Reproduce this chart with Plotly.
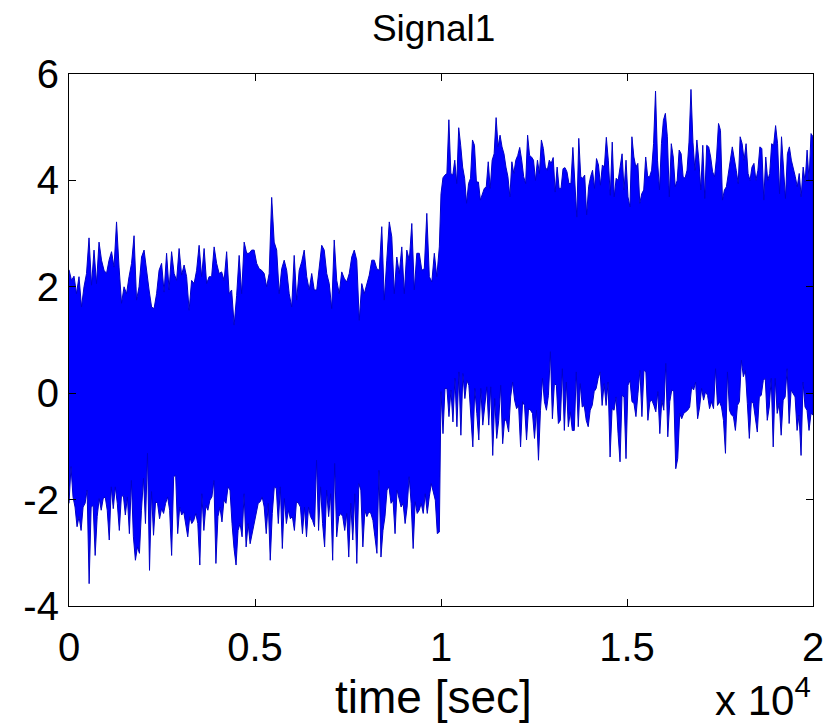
import numpy as np
import plotly.graph_objects as go

# Upper envelope (peaks) of Signal1
upper_first = [
    2.32, 2.12, 2.20, 1.87, 2.19, 1.62, 2.00, 2.25, 2.92, 2.03,
    2.69, 2.06, 2.84, 2.50, 2.31, 2.25, 2.50, 2.66, 2.37, 3.22,
    2.37, 1.69, 2.00, 1.87, 2.19, 2.44, 2.96, 1.75, 2.00, 2.56,
    2.69, 2.25, 1.94, 1.62, 1.59, 1.87, 2.31, 2.44, 1.90, 2.63,
    1.94, 2.66, 2.25, 2.12, 2.72, 2.22, 2.41, 2.19, 1.56, 2.12,
    2.06, 2.31, 2.78, 2.19, 2.72, 2.06, 2.19, 2.19, 2.75, 2.44,
    2.25, 2.28, 2.12, 2.66, 1.87, 1.94, 1.28, 1.84, 2.59, 1.87,
    2.84, 2.63, 2.63, 2.69, 2.69, 2.44, 2.34, 2.31, 2.25, 2.00,
    2.25, 3.68, 2.84, 2.69, 1.87, 2.34, 2.50, 2.31, 1.87, 1.62,
    2.59, 1.75, 2.31, 2.47, 2.69, 2.19, 1.94, 2.25, 1.94, 1.94,
    2.37, 2.78, 2.69, 2.25, 2.06, 1.59, 2.88, 2.12, 1.87, 2.28,
    2.16, 2.09, 2.25, 2.56, 2.69, 2.50, 1.37, 2.06, 1.87, 2.03,
    2.22, 2.50, 2.50, 2.34, 2.31, 3.13, 1.75, 2.50, 3.22, 2.94,
    1.87, 2.56, 2.25, 2.75, 1.87, 2.69, 2.50, 3.19, 1.94, 2.63,
    2.63, 2.31, 2.34, 3.38, 2.19, 2.09, 2.63, 2.19, 2.75,
]
upper_second = [
    3.75, 4.05, 4.10, 4.13, 5.14, 4.13, 4.10, 4.38, 3.94, 4.99,
    4.66, 4.25, 4.04, 3.57, 3.94, 4.04, 4.76, 4.66, 3.97, 3.97,
    3.63, 3.75, 3.85, 3.88, 4.35, 3.85, 4.38, 4.50, 5.18, 4.63,
    4.85, 4.63, 4.50, 4.25, 4.07, 3.69, 4.35, 4.13, 4.38, 4.47,
    4.62, 4.38, 4.07, 3.94, 4.85, 4.47, 4.44, 4.38, 4.00, 4.38,
    4.13, 4.76, 4.60, 4.25, 4.19, 4.38, 4.32, 4.43, 3.78, 4.25,
    3.85, 3.85, 4.22, 4.24, 4.16, 3.94, 3.94, 4.62, 4.00, 3.31,
    4.79, 4.07, 4.04, 4.10, 3.35, 3.88, 4.07, 4.19, 3.85, 4.41,
    4.29, 3.91, 4.29, 4.25, 4.81, 4.38, 3.72, 4.72, 3.69, 4.04,
    4.00, 4.25, 4.50, 3.82, 4.38, 3.69, 3.50, 4.82, 4.44, 4.25,
    4.32, 3.57, 3.75, 3.82, 4.44, 4.07, 4.07, 4.19, 4.69, 5.68,
    4.38, 3.82, 4.69, 5.13, 5.26, 4.82, 3.69, 4.69, 4.44, 3.88,
    4.00, 4.57, 4.50, 4.07, 4.04, 4.19, 4.72, 5.71, 4.72, 4.19,
    4.76, 4.38, 3.82, 4.66, 3.66, 4.66, 4.63, 4.44, 4.16, 4.07,
    4.44, 5.07, 4.94, 3.63, 3.82, 3.88, 4.19, 4.38, 4.63, 4.44,
    4.19, 3.94, 4.82, 4.69, 4.38, 4.69, 4.13, 4.00, 4.25, 4.32,
    4.00, 4.19, 4.63, 4.60, 3.63, 4.44, 4.00, 4.13, 4.69, 4.66,
    5.03, 4.69, 3.75, 4.82, 4.13, 3.66, 4.50, 4.63, 4.38, 4.25,
    4.07, 3.88, 4.13, 3.69, 4.25, 3.97, 4.57, 4.00, 4.88, 4.82,
]
# Lower envelope (troughs) of Signal1
lower_first = [
    -2.07, -1.38, -1.95, -2.14, -2.51, -2.32, -2.58, -2.14, -2.07, -1.82,
    -3.58, -2.14, -2.11, -3.05, -2.32, -1.98, -2.20, -1.98, -1.95, -2.20,
    -2.76, -1.76, -2.17, -1.76, -2.07, -2.58, -1.95, -1.92, -2.29, -1.95,
    -2.64, -1.64, -2.70, -3.14, -2.89, -3.01, -2.20, -1.60, -2.45, -1.13,
    -3.33, -1.85, -2.67, -2.04, -2.07, -2.36, -2.17, -2.26, -2.07, -1.95,
    -2.20, -3.05, -1.57, -1.54, -2.64, -2.14, -2.29, -2.23, -2.45, -2.70,
    -2.32, -2.45, -2.39, -2.26, -2.45, -3.23, -1.89, -2.58, -2.11, -2.20,
    -2.01, -1.95, -1.64, -3.20, -2.32, -2.14, -2.42, -2.01, -2.07, -1.76,
    -1.82, -2.45, -2.92, -3.23, -2.58, -2.45, -2.70, -1.89, -2.89, -2.45,
    -2.83, -2.58, -2.45, -2.26, -2.07, -2.04, -1.95, -2.14, -2.64, -2.07,
    -3.14, -2.26, -1.76, -1.79, -2.45, -1.76, -2.92, -1.98, -2.45, -2.20,
    -2.36, -2.32, -2.58, -2.04, -2.07, -2.14, -2.64, -2.14, -2.70, -2.14,
    -2.32, -2.39, -2.51, -1.26, -2.58, -1.76, -2.45, -2.89, -1.82, -2.32,
    -1.89, -3.14, -1.32, -2.70, -2.32, -2.26, -2.32, -2.58, -2.26, -3.08,
    -2.07, -2.76, -1.89, -3.20, -1.70, -1.82, -2.89, -2.20, -2.32, -2.23,
    -2.26, -2.39, -2.70, -3.01, -1.45, -3.08, -2.58, -2.32, -1.82, -1.76,
    -2.07, -2.01, -2.64, -1.82, -1.95, -2.14, -2.07, -2.45, -2.14, -1.57,
    -2.07, -2.92, -2.04, -2.26, -2.20, -2.07, -2.26, -1.89, -2.26, -1.95,
    -1.70, -1.82, -2.01, -2.64, -2.61,
]
lower_second = [
    0.03, -0.76, 0.09, 0.09, -0.44, 0.06, -0.54, 0.28, -0.63, 0.40,
    -0.79, 0.37, -0.10, 0.24, 0.15, -0.38, -1.01, 0.09, -0.38, -0.88,
    0.09, -0.60, -0.19, 0.12, -0.60, 0.12, -1.17, -0.10, -0.85, -0.51,
    0.15, -0.95, -0.48, -0.54, -0.73, -0.07, 0.21, -0.13, -0.29, -0.23,
    -1.01, -0.16, -0.23, -0.88, -0.29, -0.32, -0.38, -0.85, -0.32, -1.26,
    -0.32, 0.28, -0.16, -0.32, -0.04, 0.78, -0.48, 0.18, 0.15, -0.57,
    -0.51, 0.46, -0.70, 0.21, -0.63, -0.35, -0.70, -0.70, 0.40, -0.63,
    0.18, -0.26, -0.23, -0.51, -0.63, -0.32, -0.23, 0.03, 0.09, 0.28,
    0.40, -0.23, 0.18, -0.23, 0.21, -1.20, -0.29, -0.32, -0.07, -0.76,
    -1.29, -0.04, -0.07, -1.23, 0.15, 0.24, -0.16, -0.19, -0.44, -0.01,
    0.43, -0.44, 0.43, 0.40, -0.51, -0.16, -0.13, -0.23, -0.35, 0.03,
    -0.76, -0.13, -0.32, 0.56, -0.82, -0.16, 0.06, 0.03, -1.42, -1.23,
    -0.38, -0.48, -0.38, -0.35, -0.32, -0.26, 0.12, 0.06, 0.21, -0.48,
    -0.26, 0.09, -0.13, 0.03, -0.04, -0.29, -0.16, -0.29, 0.46, -0.23,
    -0.16, -0.26, -0.51, -1.13, 0.40, -0.32, -0.41, -0.44, -0.70, -0.23,
    -0.16, 0.62, 0.31, 0.43, -0.19, -0.85, -0.16, -0.19, -0.44, -0.73,
    -0.07, -0.04, 0.24, 0.28, -0.51, -0.26, 0.28, -1.01, 0.28, -0.38,
    -0.19, -0.79, -0.13, -0.07, 0.46, -0.57, 0.06, -0.01, -0.07, -0.70,
    -0.41, -1.17, 0.21, -0.26, -0.32, -0.70, -0.38, -0.41,
]

x_tickvals = [0, 5000, 10000, 15000, 20000]
x_ticktext = ["0", "0.5", "1", "1.5", "2"]
y_tickvals = [-4, -2, 0, 2, 4, 6]
y_ticktext = ["-4", "-2", "0", "2", "4", "6"]

# sample times (uniform sampling within each half; step change at 1e4 s)
t_up1 = np.linspace(0, 9955, len(upper_first))
t_up2 = np.linspace(10000, 20000, len(upper_second))
t_lo1 = np.linspace(0, 9955, len(lower_first))
t_lo2 = np.linspace(10000, 20000, len(lower_second))

xs = np.concatenate([t_up1, t_up2, t_lo2[::-1], t_lo1[::-1]])
ys = np.concatenate([upper_first, upper_second, lower_second[::-1], lower_first[::-1]])

FONT = "Liberation Sans, Arial, sans-serif"

fig = go.Figure()
fig.add_trace(go.Scatter(
    x=xs, y=ys, mode="lines", fill="toself",
    fillcolor="#0000FF", line=dict(color="#0000C8", width=1),
    hoverinfo="skip", showlegend=False,
))

axis_common = dict(
    showline=True, linecolor="black", linewidth=1.2, mirror="ticks",
    ticks="inside", ticklen=7, tickcolor="black", tickwidth=1.2,
    showgrid=False, zeroline=False, automargin=False,
    tickfont=dict(family=FONT, size=40, color="black"),
)

W, H = 826, 725
fig.update_layout(
    width=W, height=H,
    margin=dict(l=69, r=13, t=74, b=119),
    paper_bgcolor="white", plot_bgcolor="white",
    title=dict(text="Signal1", x=0.525, xanchor="center", y=1 - 28 / H,
               yanchor="middle", yref="container",
               font=dict(family=FONT, size=37, color="black")),
    xaxis=dict(range=[0, 20000], tickvals=x_tickvals, ticktext=x_ticktext,
               ticklabelstandoff=6, **axis_common),
    yaxis=dict(range=[-4, 6], tickvals=y_tickvals, ticktext=y_ticktext,
               ticklabelstandoff=1, **axis_common),
    annotations=[
        dict(text="time [sec]", xref="paper", yref="paper", x=0.49, y=-0.171,
             xanchor="center", yanchor="middle", showarrow=False,
             font=dict(family=FONT, size=46, color="black")),
        dict(text="x 10<sup>4</sup>", xref="paper", yref="paper", x=1.0, y=-0.171,
             xanchor="right", yanchor="middle", showarrow=False,
             font=dict(family=FONT, size=42, color="black")),
    ],
)

# remove the default page margin so the figure fills the window exactly
fig.write_html(
    "out.html",
    config={"displayModeBar": False},
    post_script="document.body.style.margin='0';document.body.style.overflow='hidden';",
)
